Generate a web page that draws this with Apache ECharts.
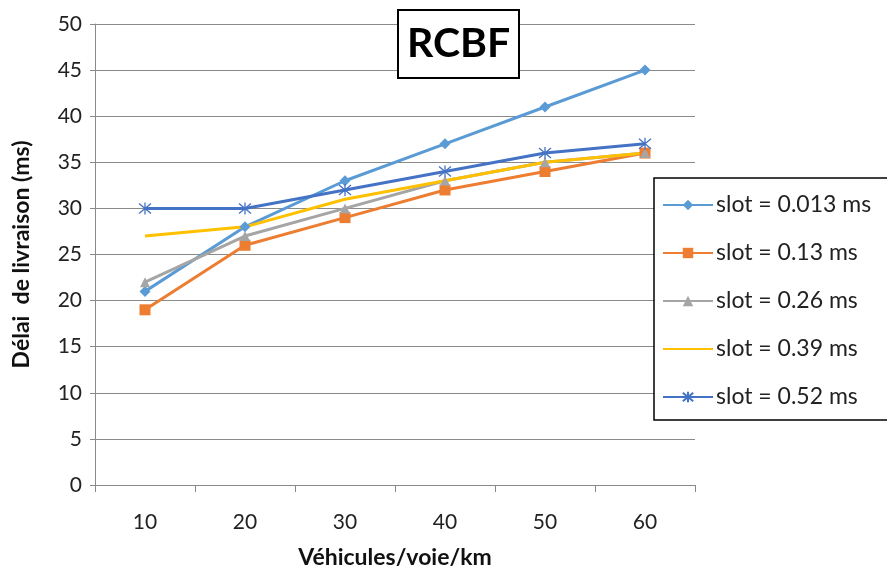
<!DOCTYPE html>
<html>
<head>
<meta charset="utf-8">
<script src="https://cdn.jsdelivr.net/npm/echarts@6/dist/echarts.min.js"></script>
<style>
  html, body { margin: 0; padding: 0; background: #fff; }
  #chart { width: 887px; height: 577px; }
</style>
</head>
<body>
<div id="chart"></div>
<script>
// Vehicle density categories (x axis)
const categories = ['10', '20', '30', '40', '50', '60'];

// Delivery delay (ms) per slot duration
const seriesNames = ['slot = 0.013 ms', 'slot = 0.13 ms', 'slot = 0.26 ms', 'slot = 0.39 ms', 'slot = 0.52 ms'];
const slot0013 = [21, 28, 33, 37, 41, 45];
const slot013  = [19, 26, 29, 32, 34, 36];
const slot026  = [22, 27, 30, 33, 35, 36];
const slot039  = [27, 28, 31, 33, 35, 36];
const slot052  = [30, 30, 32, 34, 36, 37];

const FONT = 'Lato, "Open Sans", sans-serif';
const asterisk = 'path://M0,0L10,10M10,0L0,10M5,-1L5,11';

function lineSeries(name, data, color, symbol, size, extra) {
  return Object.assign({
    name: name,
    type: 'line',
    data: data,
    symbol: symbol,
    symbolSize: size,
    showSymbol: symbol !== 'none',
    lineStyle: { color: color, width: 3 },
    itemStyle: { color: color },
    emphasis: { disabled: true },
    z: 3
  }, extra || {});
}

// Legend entries; the plain line series shows no marker
const legendItems = seriesNames.map(function (n, i) {
  return i === 3 ? { name: n, itemStyle: { opacity: 0 } } : { name: n };
});

const chart = echarts.init(document.getElementById('chart'), null, { renderer: 'canvas' });

chart.setOption({
  animation: false,
  backgroundColor: '#ffffff',
  title: {
    text: 'RCBF',
    left: 398,
    top: 10,
    padding: [9, 9, 9, 9],
    borderColor: '#000',
    borderWidth: 2,
    backgroundColor: '#fff',
    textStyle: { fontFamily: FONT, fontSize: 41, lineHeight: 50, fontWeight: 'bold', color: '#000' }
  },
  legend: {
    orient: 'vertical',
    left: 654,
    top: 178,
    padding: [15, 40, 11, 8],
    itemGap: 24,
    itemWidth: 50,
    itemHeight: 13,
    borderColor: '#000',
    borderWidth: 1.5,
    backgroundColor: '#fff',
    data: legendItems,
    textStyle: { fontFamily: FONT, fontSize: 23, lineHeight: 24, color: '#222', padding: [0, 0, 0, -2] }
  },
  grid: { left: 95, right: 192, top: 24, bottom: 92 },
  xAxis: {
    type: 'category',
    data: categories,
    name: 'Véhicules/voie/km',
    nameLocation: 'middle',
    nameGap: 61,
    nameTextStyle: { fontFamily: FONT, fontSize: 23, fontWeight: 'bold', color: '#111' },
    axisLine: { lineStyle: { color: '#8a8a8a', width: 1 } },
    axisTick: { show: true, length: 7, lineStyle: { color: '#8a8a8a' } },
    axisLabel: { fontFamily: FONT, fontSize: 21, color: '#222', margin: 27 }
  },
  yAxis: {
    type: 'value',
    min: 0,
    max: 50,
    interval: 5,
    name: 'Délai  de livraison (ms)',
    nameLocation: 'middle',
    nameGap: 62,
    nameTextStyle: { fontFamily: FONT, fontSize: 23, fontWeight: 'bold', color: '#111' },
    axisLine: { show: true, lineStyle: { color: '#8a8a8a', width: 1 } },
    axisTick: { show: true, length: 5, lineStyle: { color: '#8a8a8a' } },
    axisLabel: { fontFamily: FONT, fontSize: 21, color: '#222', margin: 13 },
    splitLine: { lineStyle: { color: '#8a8a8a', width: 1 } }
  },
  series: [
    lineSeries(seriesNames[0], slot0013, '#5B9BD5', 'diamond', 11),
    lineSeries(seriesNames[1], slot013, '#ED7D31', 'rect', 11),
    lineSeries(seriesNames[2], slot026, '#A5A5A5', 'triangle', 10),
    lineSeries(seriesNames[3], slot039, '#FFC000', 'none', 0),
    lineSeries(seriesNames[4], slot052, '#4472C4', asterisk, 12, {
      itemStyle: { color: '#4472C4', borderColor: '#4472C4', borderWidth: 1.3 }
    })
  ]
});
</script>
</body>
</html>
